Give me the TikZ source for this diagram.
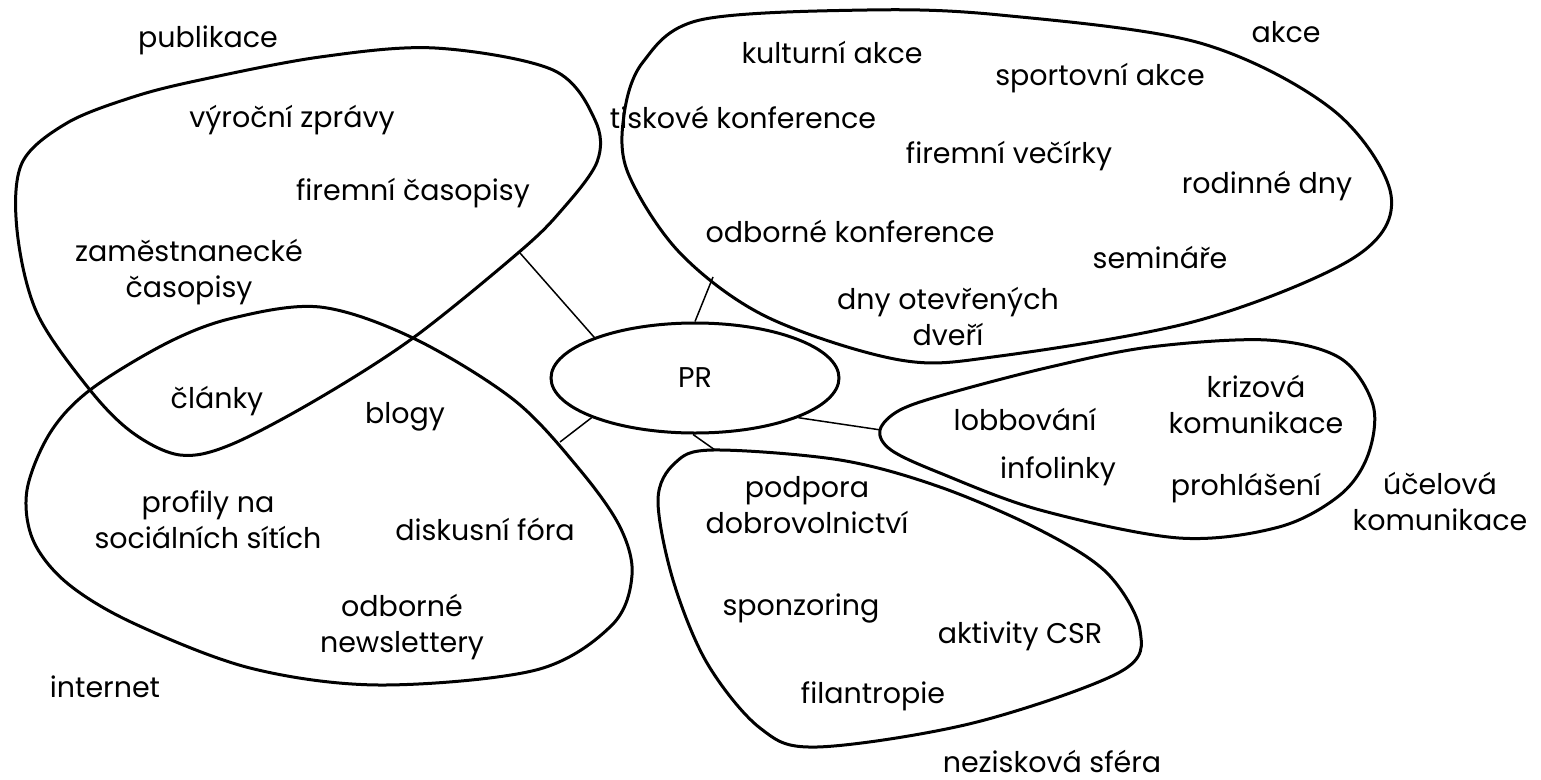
\documentclass[tikz,border=0pt]{standalone}
\usepackage{fontspec}
\setmainfont{Poppins}
\usetikzlibrary{shapes.geometric}
\newfontfamily\lblfam{Poppins}
\newcommand{\lblfont}{\lblfam\fontsize{28.5}{35.5}\selectfont}
\tikzset{
  blob/.style={line width=3pt, line join=round},
  link/.style={line width=1.5pt},
  lbl/.style={font=\lblfont, inner sep=0pt, anchor=base, align=center},
}
\begin{document}
\begin{tikzpicture}[x=1pt,y=-1pt]
\useasboundingbox (0,0) rectangle (1541,779);
% publikace
\draw[blob] plot[smooth cycle, tension=0.55] coordinates {
 (67,123) (133,97) (200,80) (320,57) (435,48) (553,70) (595,120) (597,162) (560,212)
 (518,253) (413,338) (316,400) (230,445) (180,455) (133,433) (90,390) (37,313) (17,230) (22,163)};
% internet
\draw[blob] plot[smooth cycle, tension=0.55] coordinates {
 (320,307) (413,338) (514,400) (580,470) (620,527) (632,575) (612,625) (536,670)
 (379,685) (250,668) (133,623) (67,583) (33,540) (27,490) (50,433) (90,390) (167,343) (233,318)};
% akce
\draw[blob] plot[smooth cycle, tension=0.55] coordinates {
 (700,20) (867,10) (1000,15) (1200,43) (1333,110) (1391,195) (1355,257) (1200,320)
 (1000,356) (900,360) (767,317) (680,253) (628,173) (624,115) (643,62)};
% ucelova komunikace
\draw[blob] plot[smooth cycle, tension=0.55] coordinates {
 (880,430) (900,410) (950,393) (1050,367) (1150,347) (1267,340) (1340,358) (1373,405)
 (1368,455) (1340,495) (1279,527) (1179,538) (1040,510) (940,473) (891,450)};
% neziskova sfera
\draw[blob] plot[smooth cycle, tension=0.55] coordinates {
 (713,450) (840,460) (940,487) (1040,530) (1107,573) (1140,630) (1120,672) (973,723)
 (817,747) (760,728) (707,663) (673,580) (658,500) (675,463)};
% PR
\node[ellipse, draw, line width=3pt, minimum width=288pt, minimum height=110pt, inner sep=0pt, font=\lblfont] (PR) at (695,378) {PR};
% connector ends on the blobs
\coordinate (cPub) at (520,253);
\coordinate (cNet) at (560,442);
\coordinate (cAkce) at (713,277);
\coordinate (cUcel) at (881,430);
\coordinate (cNez) at (715,450);
\draw[link] (PR.158.6) -- (cPub);
\draw[link] (PR.201.2) -- (cNet);
\draw[link] (PR.90) -- (cAkce);
\draw[link] (PR.339.6) -- (cUcel);
\draw[link] (PR.268) -- (cNez);
% labels
\node[lbl] (tPub) at (208,47) {publikace};
\node[lbl] (tVyr) at (292,127) {výroční zprávy};
\node[lbl] (tFirC) at (413,200) {firemní časopisy};
\node[lbl] (tZam) at (189,297) {zaměstnanecké\\časopisy};
\node[lbl] (tCla) at (217,408) {články};
\node[lbl] (tBlog) at (405,423) {blogy};
\node[lbl] (tProf) at (208,548) {profily na\\sociálních sítích};
\node[lbl] (tDisk) at (485,540) {diskusní fóra};
\node[lbl] (tOdbN) at (402,652) {odborné\\newslettery};
\node[lbl] (tNet) at (105,697) {internet};
\node[lbl] (tAkce) at (1286,42) {akce};
\node[lbl] (tKult) at (832,63) {kulturní akce};
\node[lbl] (tSport) at (1100,85) {sportovní akce};
\node[lbl] (tTisk) at (743,128) {tiskové konference};
\node[lbl] (tVec) at (1009,163) {firemní večírky};
\node[lbl] (tRod) at (1267,193) {rodinné dny};
\node[lbl] (tOdbK) at (850,242) {odborné konference};
\node[lbl] (tSem) at (1160,268) {semináře};
\node[lbl] (tDny) at (948,345) {dny otevřených\\dveří};
\node[lbl] (tKriz) at (1256,433) {krizová\\komunikace};
\node[lbl] (tLob) at (1025,430) {lobbování};
\node[lbl] (tInfo) at (1058,478) {infolinky};
\node[lbl] (tProh) at (1246,495) {prohlášení};
\node[lbl] (tUcel) at (1440,530) {účelová\\komunikace};
\node[lbl] (tPodp) at (807,533) {podpora\\dobrovolnictví};
\node[lbl] (tSpon) at (801,615) {sponzoring};
\node[lbl] (tCSR) at (1020,643) {aktivity CSR};
\node[lbl] (tFil) at (873,703) {filantropie};
\node[lbl] (tNez) at (1052,772) {nezisková sféra};
\end{tikzpicture}
\end{document}
